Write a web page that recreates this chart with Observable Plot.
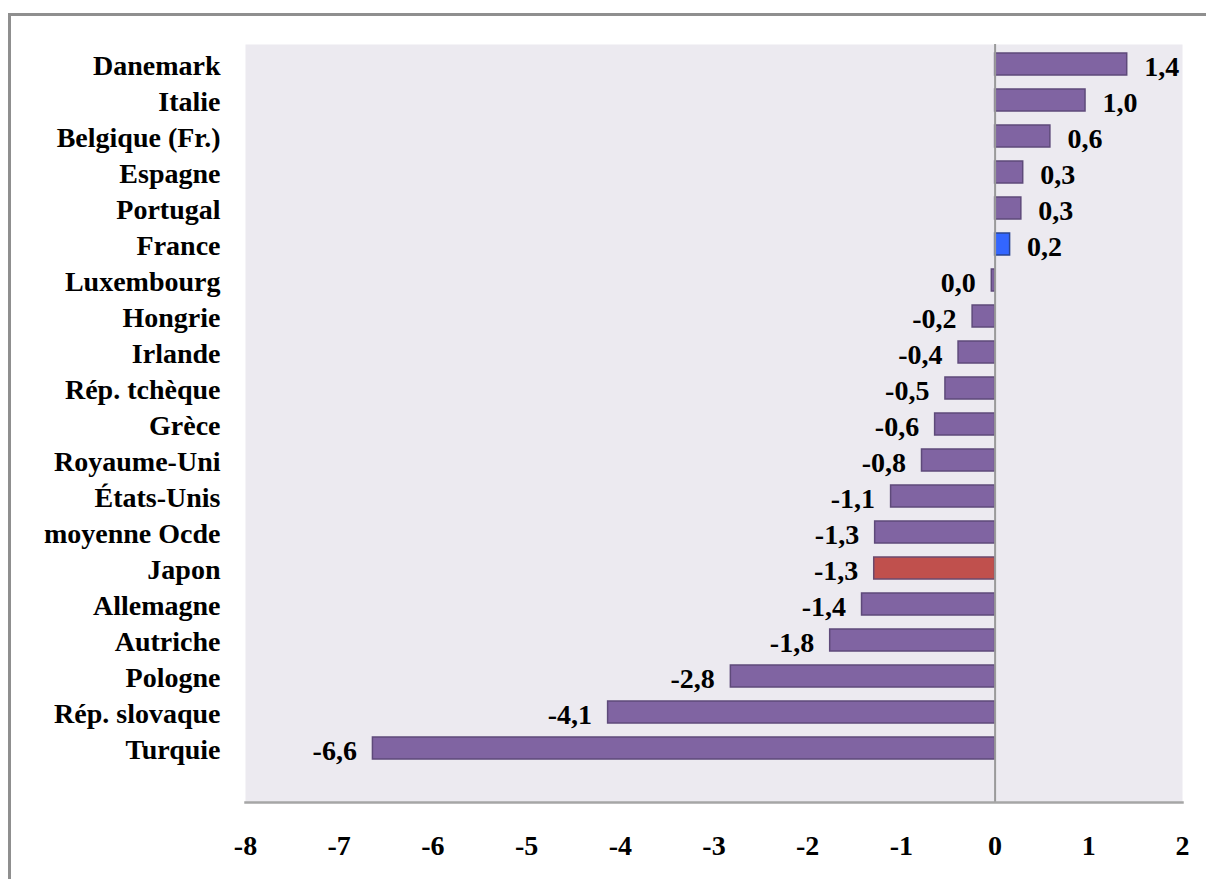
<!DOCTYPE html>
<html>
<head>
<meta charset="utf-8">
<script src="https://cdn.jsdelivr.net/npm/d3@7"></script>
<script src="https://cdn.jsdelivr.net/npm/@observablehq/plot@0.6"></script>
<style>
  html, body { margin: 0; padding: 0; background: #fff; overflow: hidden; }
  #wrap { position: relative; width: 1206px; height: 879px; overflow: hidden; }
  #border { position: absolute; left: 8px; top: 13px; width: 1400px; height: 1100px;
            border: 3px solid #8f8f8f; box-sizing: border-box; pointer-events: none; }
  svg { display: block; }
</style>
</head>
<body>
<div id="wrap"><div id="chart"></div><div id="border"></div></div>
<script>
const countries = ["Danemark","Italie","Belgique (Fr.)","Espagne","Portugal","France","Luxembourg","Hongrie","Irlande","Rép. tchèque","Grèce","Royaume-Uni","États-Unis","moyenne Ocde","Japon","Allemagne","Autriche","Pologne","Rép. slovaque","Turquie"];
const values = [1.41, 0.965, 0.59, 0.30, 0.28, 0.16, -0.035, -0.24, -0.39, -0.53, -0.64, -0.78, -1.11, -1.28, -1.29, -1.42, -1.76, -2.82, -4.13, -6.64];
const valueLabels = ["1,4","1,0","0,6","0,3","0,3","0,2","0,0","-0,2","-0,4","-0,5","-0,6","-0,8","-1,1","-1,3","-1,3","-1,4","-1,8","-2,8","-4,1","-6,6"];
const highlight = {"France": "blue", "Japon": "red"};
const xTicks = [-8,-7,-6,-5,-4,-3,-2,-1,0,1,2];

const fills = {normal: "#8064A2", blue: "#3366FF", red: "#C0504D"};
const strokes = {normal: "#5E4A7A", blue: "#2A4591", red: "#6B4A6E"};

const data = countries.map((c, i) => ({country: c, value: values[i], label: valueLabels[i], kind: highlight[c] || "normal"}));

const font = "'Liberation Serif', 'Times New Roman', serif";
const fs = 28;

const chart = Plot.plot({
  width: 1206,
  height: 879,
  marginLeft: 245,
  marginRight: 24,
  marginTop: 44,
  marginBottom: 77,
  style: {fontFamily: font, fontWeight: "bold", fontSize: fs + "px", color: "#000", background: "transparent"},
  x: {domain: [-8, 2], ticks: xTicks},
  y: {domain: countries, paddingInner: 0.4, paddingOuter: 0.2, insetBottom: 35.4},
  marks: [
    Plot.frame({fill: "#ECEAF0", stroke: "none"}),
    Plot.barX(data, {x: "value", y: "country", fill: d => fills[d.kind], stroke: d => strokes[d.kind], strokeWidth: 1.5}),
    Plot.ruleX([0], {stroke: "#9a9a9a", strokeWidth: 2}),
    Plot.frame({anchor: "bottom", stroke: "#a6a6a6", strokeWidth: 2.5}),
    Plot.text(data.filter(d => d.value >= 0), {x: "value", y: "country", text: "label", textAnchor: "start", dx: 17, dy: 3, fontSize: fs, fontWeight: "bold", fill: "#000"}),
    Plot.text(data.filter(d => d.value < 0), {x: "value", y: "country", text: "label", textAnchor: "end", dx: -16, dy: 3, fontSize: fs, fontWeight: "bold", fill: "#000"}),
    Plot.axisX({ticks: xTicks, tickSize: 0, tickPadding: 33, tickFormat: d => String(d), fontSize: fs, fontWeight: "bold", label: null}),
    Plot.axisY({tickSize: 0, tickPadding: 25, fontSize: fs, fontWeight: "bold", label: null, dy: 2})
  ]
});
document.getElementById("chart").appendChild(chart);
</script>
</body>
</html>
